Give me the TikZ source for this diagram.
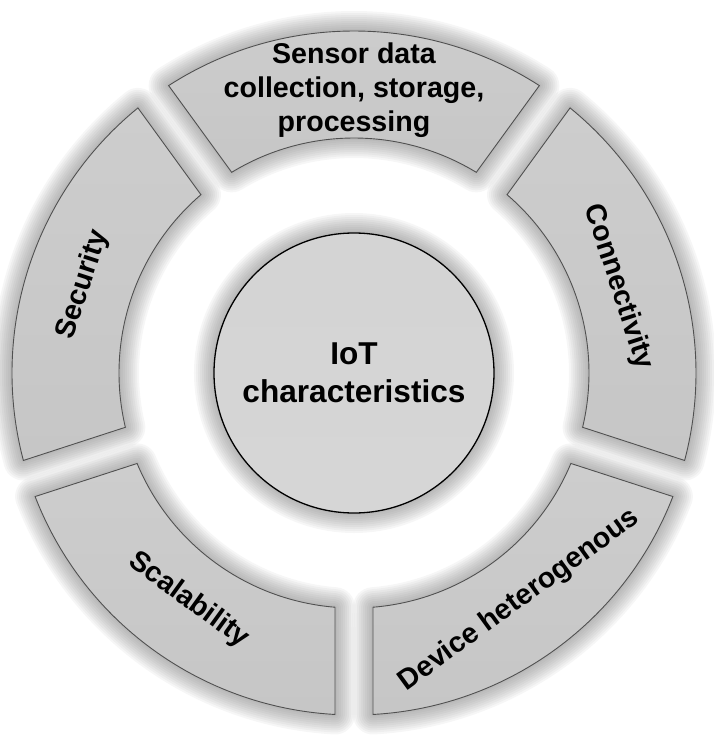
\documentclass[tikz,border=0pt]{standalone}
\usepackage{fontspec}
\setmainfont{Liberation Sans}

\definecolor{segline}{HTML}{505050}
\definecolor{segtop}{HTML}{CDCDCD}
\definecolor{segbot}{HTML}{C6C6C6}

\begin{document}
\begin{tikzpicture}[
    every node/.style={text=black, align=center},
    seglabel/.style={font=\bfseries\fontsize{28.6}{34}\selectfont},
    hub/.style={circle, draw=black, line width=1.3pt, minimum size=280pt, inner sep=0pt,
      top color=black!17, middle color=black!23, bottom color=black!16,
      font=\bfseries\fontsize{31.6}{38}\selectfont},
    glow/.style={draw=black!60, draw opacity=0.06, line join=round},
    segment/.style={draw=segline, line width=0.9pt, top color=segtop, bottom color=segbot},
  ]
  \useasboundingbox (-354pt,-367pt) rectangle (360pt,373pt);
  \foreach \ang in {90,18,306,234,162}
    \foreach \w in {4,8,...,40}
      \draw[glow, line width=\w pt] (\ang-32.82:342pt)
        arc[start angle=\ang-32.82, end angle=\ang+32.82, radius=342pt]
        -- (\ang+31.36:235pt)
        arc[start angle=\ang+31.36, end angle=\ang-31.36, radius=235pt] -- cycle;
  \foreach \w in {4,8,...,40}
    \draw[glow, line width=\w pt] (0,0) circle[radius=140pt];
  \foreach \ang in {90,18,306,234,162}
    \draw[segment] (\ang-32.82:342pt)
      arc[start angle=\ang-32.82, end angle=\ang+32.82, radius=342pt]
      -- (\ang+31.36:235pt)
      arc[start angle=\ang+31.36, end angle=\ang-31.36, radius=235pt] -- cycle;

  \node[hub] (hub) at (0,0) {IoT\\characteristics};
  \node[seglabel] (sensor) at (90:283pt) {Sensor data\\collection, storage,\\processing};
  \node[seglabel, rotate=-72] (connect) at (18:278pt) {Connectivity};
  \node[seglabel, rotate=36] (device) at (306:281pt) {Device heterogenous};
  \node[seglabel, rotate=-36] (scale) at (234:281pt) {Scalability};
  \node[seglabel, rotate=72] (secure) at (162:285pt) {Security};
\end{tikzpicture}
\end{document}
